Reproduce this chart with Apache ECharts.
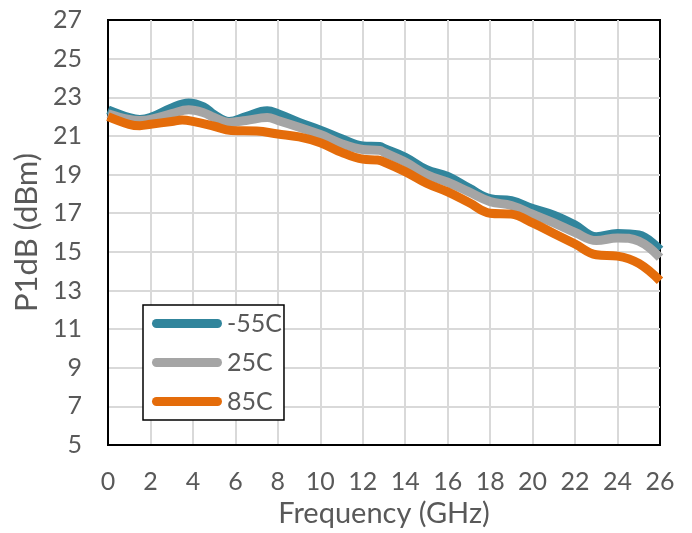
<!DOCTYPE html>
<html>
<head>
<meta charset="utf-8">
<script src="https://cdn.jsdelivr.net/npm/echarts@6/dist/echarts.min.js"></script>
<style>html,body{margin:0;padding:0;background:#fff}#c{width:692px;height:533px}</style>
</head>
<body>
<div id="c"></div>
<script>
const seriesNames = ['-55C', '25C', '85C'];
const colors = ['#31859C', '#A5A5A5', '#E46C0A'];

const freqM55 = [0, 1, 1.5, 2, 3, 3.8, 4.5, 5, 5.7, 6.5, 7.5, 8, 9, 10, 11, 12, 12.8, 13, 14, 15, 16, 17, 18, 19, 20, 21, 22, 23, 24, 25, 26];
const valM55  = [22.35, 21.95, 21.85, 21.95, 22.45, 22.7, 22.5, 22.1, 21.75, 22.0, 22.3, 22.15, 21.7, 21.3, 20.85, 20.48, 20.45, 20.35, 19.9, 19.25, 18.9, 18.3, 17.75, 17.65, 17.24, 16.9, 16.39, 15.78, 15.95, 15.87, 15.1];

const freq25 = [0, 1, 1.5, 2, 3, 3.8, 4.5, 5, 5.7, 6.5, 7.5, 8, 9, 10, 11, 12, 12.8, 13, 14, 15, 16, 17, 18, 19, 20, 21, 22, 23, 24, 25, 26];
const val25  = [22.15, 21.85, 21.8, 21.85, 22.15, 22.35, 22.2, 21.95, 21.7, 21.8, 21.95, 21.8, 21.45, 21.07, 20.6, 20.3, 20.25, 20.15, 19.65, 19.0, 18.6, 18.1, 17.6, 17.4, 16.95, 16.5, 16.0, 15.58, 15.72, 15.55, 14.7];

const freq85 = [0, 1, 1.5, 2, 3, 3.5, 4, 5, 5.8, 7, 8, 9, 10, 11, 12, 12.7, 13, 14, 15, 16, 17, 18, 19, 20, 21, 22, 23, 24, 25, 26];
const val85  = [22.0, 21.6, 21.53, 21.6, 21.75, 21.82, 21.75, 21.5, 21.28, 21.25, 21.1, 20.95, 20.65, 20.15, 19.8, 19.75, 19.65, 19.15, 18.55, 18.1, 17.55, 17.0, 16.95, 16.5, 15.95, 15.4, 14.85, 14.78, 14.4, 13.5];

const xTicks = {min: 0, max: 26, step: 2};
const yTicks = {min: 5, max: 27, step: 2};

const pair = (xs, ys) => xs.map((x, i) => [x, ys[i]]);
const allData = [pair(freqM55, valM55), pair(freq25, val25), pair(freq85, val85)];

const font = 'Lato, "Noto Sans", sans-serif';
const txt = '#595959';
const icon = 'path://M4.5,0 H65.5 A4.5,4.5 0 0 1 65.5,9 H4.5 A4.5,4.5 0 0 1 4.5,0 Z';

const chart = echarts.init(document.getElementById('c'), null, {renderer: 'canvas'});
chart.setOption({
  animation: false,
  backgroundColor: '#fff',
  textStyle: {fontFamily: font},
  grid: {left: 108, right: 32, top: 20, bottom: 86, show: true, borderColor: '#000', borderWidth: 2, backgroundColor: 'transparent'},
  legend: {
    orient: 'vertical', left: 143, top: 305,
    data: seriesNames.map((n, i) => ({name: n, icon: icon, itemStyle: {color: colors[i]}})),
    itemWidth: 70, itemHeight: 9, itemGap: 14,
    padding: [6, 2, 6, 9],
    backgroundColor: '#fff', borderColor: '#000', borderWidth: 1.5, borderRadius: 0,
    textStyle: {fontFamily: font, fontSize: 25, color: txt, lineHeight: 25}
  },
  xAxis: {
    type: 'value', min: xTicks.min, max: xTicks.max, interval: xTicks.step,
    name: 'Frequency (GHz)', nameLocation: 'middle', nameGap: 54,
    nameTextStyle: {fontFamily: font, fontSize: 29, color: txt},
    axisLine: {show: true, lineStyle: {color: '#000', width: 2}},
    axisTick: {show: false},
    axisLabel: {fontFamily: font, fontSize: 25, color: txt, margin: 24},
    splitLine: {show: true, showMinLine: false, showMaxLine: false, lineStyle: {color: '#d9d9d9', width: 2}}
  },
  yAxis: {
    type: 'value', min: yTicks.min, max: yTicks.max, interval: yTicks.step,
    name: 'P1dB (dBm)', nameLocation: 'middle', nameGap: 64,
    nameTextStyle: {fontFamily: font, fontSize: 31, color: txt},
    axisLine: {show: true, lineStyle: {color: '#000', width: 2}},
    axisTick: {show: false},
    axisLabel: {fontFamily: font, fontSize: 25, color: txt, margin: 26},
    splitLine: {show: true, showMinLine: false, showMaxLine: false, lineStyle: {color: '#d9d9d9', width: 2}}
  },
  series: seriesNames.map((n, i) => ({
    name: n, type: 'line', data: allData[i], smooth: 0.4,
    showSymbol: false, symbol: 'none', clip: true,
    lineStyle: {color: colors[i], width: 9, cap: 'butt', join: 'round'},
    itemStyle: {color: colors[i]}
  }))
});
</script>
</body>
</html>
